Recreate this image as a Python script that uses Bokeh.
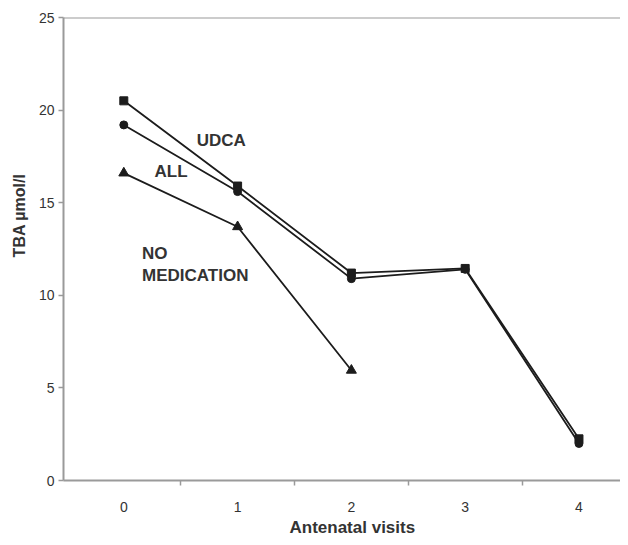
from bokeh.plotting import figure
from bokeh.models import Range1d, FixedTicker, Span, Label, Title
from bokeh.embed import file_html
from bokeh.resources import INLINE

# ---- data ----
visits = [0, 1, 2, 3, 4]
udca = [20.5, 15.9, 11.2, 11.45, 2.25]
all_patients = [19.2, 15.6, 10.9, 11.4, 2.0]
nomed_visits = [0, 1, 2]
no_medication = [16.6, 13.7, 5.95]
x_tick_labels = ["0", "1", "2", "3", "4"]
y_ticks = [0, 5, 10, 15, 20, 25]

# annotation positions (data units)
series_labels = ["UDCA", "ALL", "NO", "MEDICATION"]
label_x = [0.64, 0.27, 0.16, 0.16]
label_y = [18.37, 16.67, 12.26, 11.09]

FONT = "Liberation Sans"
AXIS = "#9a9a9a"
INK = "#1c1c1c"
TXT = "#333333"

p = figure(width=620, height=537, output_backend="svg", toolbar_location=None,
           x_range=Range1d(-0.53, 4.365), y_range=Range1d(0, 25),
           min_border_left=62, min_border_right=0, min_border_top=17,
           min_border_bottom=53)
p.outline_line_color = None
p.grid.grid_line_color = None
p.background_fill_color = "white"

# axes
p.xaxis.ticker = FixedTicker(ticks=visits, minor_ticks=[0.5, 1.5, 2.5, 3.5])
p.xaxis.major_label_overrides = {v: s for v, s in zip(visits, x_tick_labels)}
p.xaxis.major_tick_line_color = None
p.xaxis.major_tick_out = 0
p.xaxis.major_tick_in = 0
p.xaxis.minor_tick_line_color = AXIS
p.xaxis.minor_tick_line_width = 1.5
p.xaxis.minor_tick_out = 5
p.xaxis.minor_tick_in = 0
p.xaxis.major_label_standoff = 16

p.yaxis.ticker = FixedTicker(ticks=y_ticks, minor_ticks=[])
p.yaxis.major_tick_line_color = AXIS
p.yaxis.major_tick_line_width = 1.5
p.yaxis.major_tick_out = 5
p.yaxis.major_tick_in = 0
p.yaxis.major_label_standoff = 4

for ax in (p.xaxis, p.yaxis):
    ax.axis_line_color = AXIS
    ax.axis_line_width = 2
    ax.major_label_text_font = FONT
    ax.major_label_text_font_size = "14px"
    ax.major_label_text_color = TXT

p.add_layout(Span(location=25, dimension="width", line_color=AXIS, line_width=2))

# series
p.line(visits, udca, line_color=INK, line_width=1.8)
p.scatter(visits, udca, marker="square", size=8, fill_color=INK, line_color=INK)
p.line(visits, all_patients, line_color=INK, line_width=1.8)
p.scatter(visits, all_patients, marker="circle", size=8, fill_color=INK, line_color=INK)
p.line(nomed_visits, no_medication, line_color=INK, line_width=1.8)
p.scatter(nomed_visits, no_medication, marker="triangle", size=10, fill_color=INK, line_color=INK)

for t, x, y in zip(series_labels, label_x, label_y):
    p.add_layout(Label(x=x, y=y, text=t, text_font=FONT, text_font_size="17px",
                       text_font_style="bold", text_color=TXT,
                       text_align="left", text_baseline="middle"))

# axis titles
p.add_layout(Title(text="Antenatal visits", align="left", offset=226, standoff=2,
                   text_font=FONT, text_font_size="17px", text_font_style="bold",
                   text_color=TXT), "below")
p.add_layout(Title(text="TBA µmol/l", align="right", offset=156, standoff=16,
                   text_font=FONT, text_font_size="16px", text_font_style="bold",
                   text_color=TXT), "left")

open("out.html", "w").write(file_html(p, INLINE))
